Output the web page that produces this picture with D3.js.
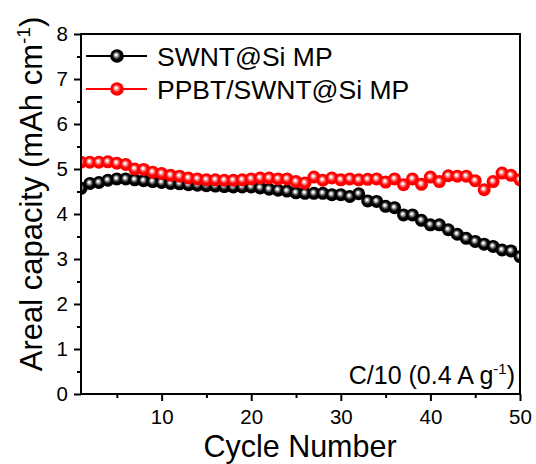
<!DOCTYPE html>
<html>
<head>
<meta charset="utf-8">
<script src="https://cdn.jsdelivr.net/npm/d3@7"></script>
<style>
  html, body { margin: 0; padding: 0; background: #fff; }
  svg { display: block; font-family: "Liberation Sans", Arial, sans-serif; }
</style>
</head>
<body>
<svg id="chart" width="536" height="464"></svg>
<script>
// Cycle numbers and areal capacities (mAh cm^-1) for the two electrodes
const cycles = d3.range(1, 51);
const swntSi = [
  4.57, 4.68, 4.70, 4.75, 4.78, 4.78, 4.76, 4.74, 4.72, 4.70,
  4.68, 4.67, 4.65, 4.64, 4.63, 4.62, 4.61, 4.60, 4.60, 4.60,
  4.58, 4.55, 4.53, 4.51, 4.47, 4.46, 4.46, 4.46, 4.43, 4.43,
  4.39, 4.45, 4.29, 4.28, 4.17, 4.14, 3.98, 3.98, 3.86, 3.76,
  3.76, 3.65, 3.55, 3.46, 3.39, 3.33, 3.28, 3.20, 3.18, 3.05
];
const ppbtSwntSi = [
  5.15, 5.15, 5.15, 5.16, 5.13, 5.10, 5.00, 4.99, 4.93, 4.90,
  4.86, 4.84, 4.80, 4.78, 4.76, 4.76, 4.75, 4.75, 4.76, 4.78,
  4.80, 4.80, 4.78, 4.78, 4.72, 4.69, 4.82, 4.75, 4.80, 4.76,
  4.78, 4.76, 4.77, 4.78, 4.71, 4.78, 4.65, 4.78, 4.66, 4.82,
  4.72, 4.85, 4.84, 4.84, 4.74, 4.54, 4.72, 4.91, 4.86, 4.76
];
const seriesNames = ["SWNT@Si MP", "PPBT/SWNT@Si MP"];
const seriesColors = ["#000000", "#ff0000"];
const xTicks = [10, 20, 30, 40, 50];
const xMinorTicks = [5, 15, 25, 35, 45];
const yTicks = [0, 1, 2, 3, 4, 5, 6, 7, 8];
const yMinorTicks = [0.5, 1.5, 2.5, 3.5, 4.5, 5.5, 6.5, 7.5];

const svg = d3.select("#chart");
const plot = { left: 81, right: 520, top: 34, bottom: 394 };

const x = d3.scaleLinear().domain([1, 50]).range([plot.left, plot.right]);
const y = d3.scaleLinear().domain([0, 8]).range([plot.bottom, plot.top]);

// Shaded sphere markers
const defs = svg.append("defs");
function sphere(id, base, mid) {
  const g = defs.append("radialGradient").attr("id", id)
    .attr("cx", "50%").attr("cy", "50%").attr("r", "50%")
    .attr("fx", "42%").attr("fy", "40%");
  g.append("stop").attr("offset", "0%").attr("stop-color", "#ffffff");
  g.append("stop").attr("offset", "14%").attr("stop-color", "#f2f2f2");
  g.append("stop").attr("offset", "38%").attr("stop-color", mid);
  g.append("stop").attr("offset", "62%").attr("stop-color", base);
  g.append("stop").attr("offset", "100%").attr("stop-color", base);
}
sphere("ball-black", "#000000", "#6a6a6a");
sphere("ball-red", "#ff0000", "#ff6a6a");
const ballFill = ["url(#ball-black)", "url(#ball-red)"];

defs.append("clipPath").attr("id", "plot-clip")
  .append("rect")
  .attr("x", plot.left).attr("y", plot.top)
  .attr("width", plot.right - plot.left).attr("height", plot.bottom - plot.top);

// Data series
const allSeries = [swntSi, ppbtSwntSi];
const line = d3.line().x((d, i) => x(cycles[i])).y(d => y(d));
const dataLayer = svg.append("g").attr("clip-path", "url(#plot-clip)");
allSeries.forEach((vals, s) => {
  const g = dataLayer.append("g");
  g.append("path").datum(vals)
    .attr("d", line)
    .attr("fill", "none")
    .attr("stroke", seriesColors[s])
    .attr("stroke-width", 1.5);
  g.selectAll("circle").data(vals).join("circle")
    .attr("cx", (d, i) => x(cycles[i]))
    .attr("cy", d => y(d))
    .attr("r", 6.5)
    .attr("fill", ballFill[s]);
});

// Axes
const tickFont = 20.5;
svg.append("g").attr("transform", `translate(0,${plot.bottom})`)
  .call(d3.axisBottom(x).tickValues(xTicks).tickSize(7).tickPadding(8).tickFormat(d3.format("d")));
svg.append("g").attr("transform", `translate(0,${plot.bottom})`)
  .call(d3.axisBottom(x).tickValues(xMinorTicks).tickSize(4).tickFormat(""));
svg.append("g").attr("transform", `translate(${plot.left},0)`)
  .call(d3.axisLeft(y).tickValues(yTicks).tickSize(7).tickPadding(6).tickFormat(d3.format("d")));
svg.append("g").attr("transform", `translate(${plot.left},0)`)
  .call(d3.axisLeft(y).tickValues(yMinorTicks).tickSize(4).tickFormat(""));

svg.selectAll(".domain").remove();
svg.selectAll(".tick line").attr("stroke", "#000").attr("stroke-width", 2);
svg.selectAll(".tick text")
  .attr("font-size", tickFont)
  .attr("font-family", "'Liberation Sans', Arial, sans-serif")
  .attr("fill", "#000");

// Frame
svg.append("rect")
  .attr("x", plot.left).attr("y", plot.top)
  .attr("width", plot.right - plot.left).attr("height", plot.bottom - plot.top)
  .attr("fill", "none").attr("stroke", "#000").attr("stroke-width", 2);

// Axis titles
svg.append("text")
  .attr("x", 300)
  .attr("y", 457)
  .attr("text-anchor", "middle")
  .attr("font-size", 30.5)
  .text("Cycle Number");

const yTitle = svg.append("text")
  .attr("transform", "translate(42,194) rotate(-90)")
  .attr("text-anchor", "middle")
  .attr("font-size", 31);
yTitle.append("tspan").text("Areal capacity (mAh cm");
yTitle.append("tspan").attr("font-size", 19).attr("dy", -12).text("-1");
yTitle.append("tspan").attr("dy", 12).text(")");

// Legend
const legendRows = [56, 89];
seriesNames.forEach((name, s) => {
  const ly = legendRows[s];
  svg.append("line")
    .attr("x1", 86).attr("x2", 147).attr("y1", ly).attr("y2", ly)
    .attr("stroke", seriesColors[s]).attr("stroke-width", 2);
  svg.append("circle")
    .attr("cx", 117).attr("cy", ly).attr("r", 6.8)
    .attr("fill", ballFill[s]);
  svg.append("text")
    .attr("x", 157).attr("y", ly + 9.5)
    .attr("font-size", 26.5)
    .text(name);
});

// Rate annotation
const note = svg.append("text")
  .attr("x", 515).attr("y", 384)
  .attr("text-anchor", "end")
  .attr("font-size", 25);
note.append("tspan").text("C/10 (0.4 A g");
note.append("tspan").attr("font-size", 15).attr("dy", -10).text("-1");
note.append("tspan").attr("dy", 10).text(")");
</script>
</body>
</html>
